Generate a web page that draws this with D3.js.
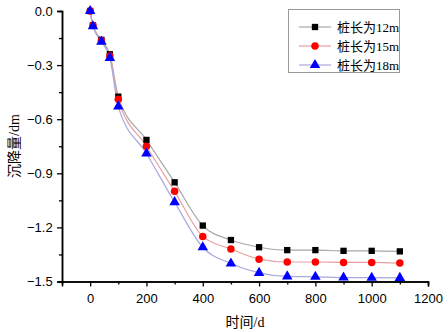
<!DOCTYPE html>
<html><head><meta charset="utf-8">
<script src="https://cdn.jsdelivr.net/npm/d3@7"></script>
<style>body{margin:0;background:#fff}</style>
</head><body>
<svg id="c" width="448" height="332"></svg>
<script>
const times = [0, 10, 40, 70, 100, 200, 300, 400, 500, 600, 700, 800, 900, 1000, 1100];
const pile12 = [0, -0.08, -0.16, -0.24, -0.475, -0.715, -0.95, -1.19, -1.27, -1.31, -1.326, -1.326, -1.33, -1.33, -1.333];
const pile15 = [0, -0.08, -0.165, -0.25, -0.49, -0.75, -1.0, -1.25, -1.32, -1.376, -1.392, -1.392, -1.394, -1.394, -1.398];
const pile18 = [0, -0.085, -0.17, -0.26, -0.53, -0.79, -1.06, -1.31, -1.40, -1.452, -1.472, -1.474, -1.478, -1.479, -1.48];
const seriesNames = ["桩长为12m", "桩长为15m", "桩长为18m"];
const xTicks = [0, 200, 400, 600, 800, 1000, 1200];
const yTicks = [0, -0.3, -0.6, -0.9, -1.2, -1.5];

const svg = d3.select("#c");
const x = d3.scaleLinear().domain([-100, 1200]).range([62, 428]);
const y = d3.scaleLinear().domain([-1.5, 0]).range([281.5, 11]);

const series = [
  {name: seriesNames[0], vals: pile12, line: "#a8a8a8", fill: "#000", sym: d3.symbolSquare, size: 40},
  {name: seriesNames[1], vals: pile15, line: "#e8a0a0", fill: "#ff0000", sym: d3.symbolCircle, size: 44},
  {name: seriesNames[2], vals: pile18, line: "#a8a8e0", fill: "#0000ff", sym: d3.symbolTriangle, size: 48}
];

// axes
const xAxis = d3.axisBottom(x).tickValues(xTicks).tickFormat(d3.format("d")).tickSizeOuter(0).tickSize(5);
const xMinor = d3.axisBottom(x).tickValues(d3.range(-100, 1201, 100).filter(v => v % 200 !== 0)).tickFormat("").tickSizeOuter(0).tickSize(3);
const yAxis = d3.axisLeft(y).tickValues(yTicks).tickFormat(d3.format(".1f")).tickSizeOuter(0).tickSize(5);
const yMinor = d3.axisLeft(y).tickValues([-0.15, -0.45, -0.75, -1.05, -1.35]).tickFormat("").tickSizeOuter(0).tickSize(3);

function style(g) {
  g.selectAll("path.domain").attr("stroke", "#000").attr("stroke-width", 1.5);
  g.selectAll("line").attr("stroke", "#000").attr("stroke-width", 1.3);
  g.selectAll("text").attr("font-family", "Liberation Sans, Arial, sans-serif").attr("font-size", 13).attr("fill", "#000");
}
svg.append("g").attr("transform", "translate(0,281.5)").call(xMinor).call(style);
svg.append("g").attr("transform", "translate(0,281.5)").call(xAxis).call(style).selectAll("text").attr("dy", "1.0em");
svg.append("g").attr("transform", "translate(62,0)").call(yMinor).call(style);
svg.append("g").attr("transform", "translate(62,0)").call(yAxis).call(style).selectAll("text").attr("dx", "-0.1em");

// axis titles
svg.append("text").attr("x", 245).attr("y", 327).attr("text-anchor", "middle")
  .attr("font-family", "Liberation Serif, Noto Sans CJK SC, serif").attr("font-size", 14).text("时间/d");
svg.append("text").attr("transform", "translate(19,146) rotate(-90)").attr("text-anchor", "middle")
  .attr("font-family", "Liberation Serif, Noto Sans CJK SC, serif").attr("font-size", 14).text("沉降量/dm");

const line = d3.line().x((d, i) => x(times[i])).y(d => y(d)).curve(d3.curveMonotoneX);

series.forEach(s => {
  svg.append("path").attr("d", line(s.vals)).attr("fill", "none").attr("stroke", s.line).attr("stroke-width", 1.2);
});
series.forEach(s => {
  svg.append("g").selectAll("path").data(s.vals).join("path")
    .attr("transform", (d, i) => `translate(${x(times[i])},${y(d)})`)
    .attr("d", d3.symbol().type(s.sym).size(s.size)).attr("fill", s.fill);
});

// legend
const lg = svg.append("g");
lg.append("rect").attr("x", 288.5).attr("y", 9.5).attr("width", 111).attr("height", 63)
  .attr("fill", "#fff").attr("stroke", "#999").attr("stroke-width", 1);
series.forEach((s, i) => {
  const yy = 27 + i * 19;
  lg.append("line").attr("x1", 299).attr("x2", 331).attr("y1", yy).attr("y2", yy).attr("stroke", s.line).attr("stroke-width", 1.2);
  lg.append("path").attr("transform", `translate(315,${yy})`).attr("d", d3.symbol().type(s.sym).size(s.size)).attr("fill", s.fill);
  lg.append("text").attr("x", 337).attr("y", yy + 5).attr("font-family", "Liberation Serif, Noto Sans CJK SC, serif")
    .attr("font-size", 13).text(s.name);
});
</script>
</body></html>
